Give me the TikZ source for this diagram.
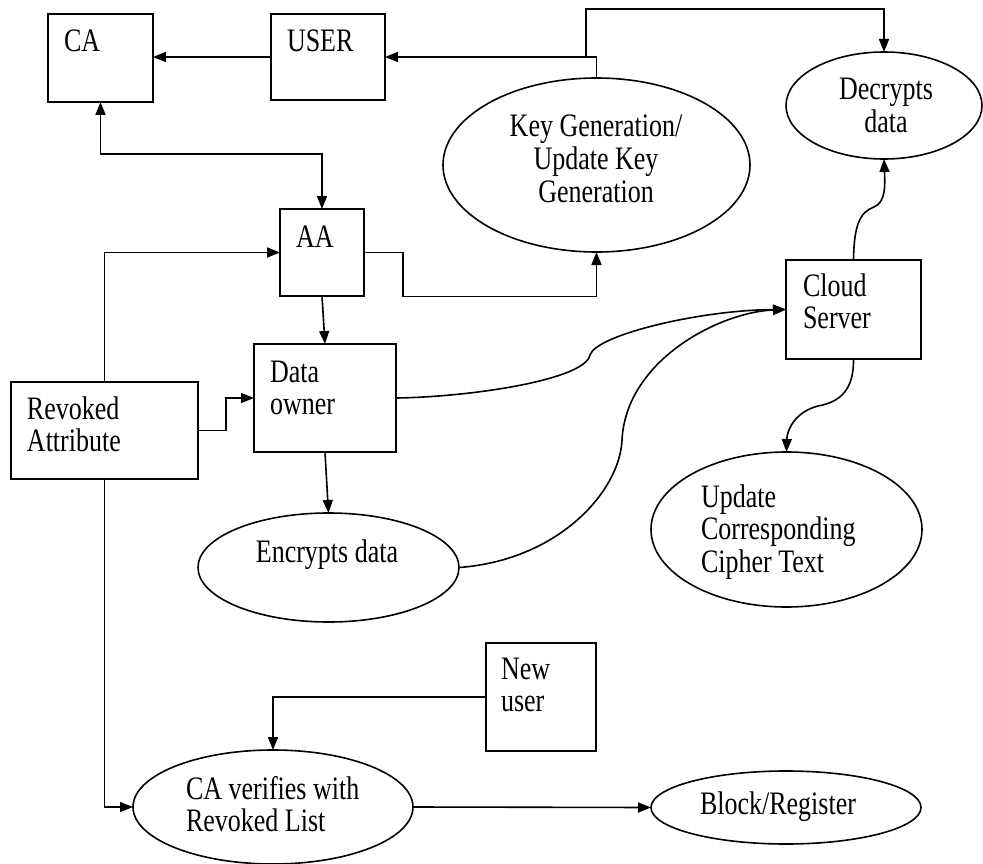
\documentclass[tikz,border=0pt]{standalone}
\usepackage{fontspec}
\setmainfont{Liberation Serif}
\usetikzlibrary{arrows.meta,shapes.geometric,calc}
\newcommand{\tx}[2][l]{\scalebox{1}[1.26]{\begin{tabular}[t]{@{}#1@{}}#2\end{tabular}}}
\begin{document}
\begin{tikzpicture}[x=1pt,y=-1pt,
  line width=1.6pt,
  box/.style={draw,rectangle,inner sep=0,outer sep=0},
  ell/.style={draw,ellipse,inner sep=0,outer sep=0},
  lab/.style={inner sep=0,outer sep=0,font=\fontsize{26}{26}\selectfont},
  arr/.style={-{Triangle[length=13pt,width=10pt]}},
  arrb/.style={{Triangle[length=13pt,width=10pt]}-{Triangle[length=13pt,width=10pt]}}]
\useasboundingbox (0,0) rectangle (983,864);

% boxes
\node[box,minimum width=105,minimum height=88] (ca) at (100.5,58) {};
\node[box,minimum width=114,minimum height=86] (user) at (328,57) {};
\node[box,minimum width=84,minimum height=87] (aa) at (322,252.5) {};
\node[box,minimum width=142,minimum height=108] (do) at (325,398) {};
\node[box,minimum width=187,minimum height=97] (rev) at (104.5,430.5) {};
\node[box,minimum width=135,minimum height=99] (cloud) at (853.5,309.5) {};
\node[box,minimum width=110,minimum height=108] (nu) at (541,697) {};

% ellipses
\node[ell,minimum width=307,minimum height=174] (kg) at (596.5,165) {};
\node[ell,minimum width=196,minimum height=107] (dec) at (884,105.5) {};
\node[ell,minimum width=261,minimum height=109] (enc) at (328.5,567.5) {};
\node[ell,minimum width=271,minimum height=155] (upd) at (786.5,529.5) {};
\node[ell,minimum width=280,minimum height=114] (cav) at (273,807) {};
\node[ell,minimum width=270,minimum height=73] (blk) at (786,807.5) {};

% texts
\node[lab,anchor=base west] (ca-t) at (64,52) {\tx{CA}};
\node[lab,anchor=base west] (user-t) at (287,52) {\tx{USER}};
\node[lab,anchor=base west] (aa-t) at (296,247) {\tx{AA}};
\node[lab,anchor=base west] (do-t) at (270,382) {\tx{Data\\owner}};
\node[lab,anchor=base west] (rev-t) at (27,419) {\tx{Revoked\\Attribute}};
\node[lab,anchor=base west] (cloud-t) at (803,296) {\tx{Cloud\\Server}};
\node[lab,anchor=base west] (nu-t) at (501,679) {\tx{New\\user}};
\node[lab,anchor=base] (kg-t) at (596,137) {\tx[c]{Key Generation/\\Update Key\\Generation}};
\node[lab,anchor=base] (dec-t) at (886,100) {\tx[c]{Decrypts\\data}};
\node[lab,anchor=base] (enc-t) at (327,562) {\tx[c]{Encrypts data}};
\node[lab,anchor=base west] (upd-t) at (701,507) {\tx{Update\\Corresponding\\Cipher Text}};
\node[lab,anchor=base west] (cav-t) at (186,799) {\tx{CA verifies with\\Revoked List}};
\node[lab,anchor=base] (blk-t) at (778,814) {\tx[c]{Block/Register}};

% connectors
\draw[arr] (user.west) -- (user.west -| ca.east);
\draw[arr] (kg.north) |- (user.east);
\coordinate (br) at (586,57);
\draw[arr] (br) -- ++(0,-48) -| (dec.north);
\draw[arrb] (ca.south) -- ++(0,52) -| (aa.north);
\draw[arr] (rev.north) |- (aa.west);
\draw[arr] (aa.east) -- ++(39,0) -- ++(0,44) -| (kg.south);
\draw[arr] (aa.south) -- (do.north);
\draw[arr] (rev.east) -- ++(28,0) |- (do.west);
\draw[arr] (do.south) -- (enc.north);
\draw[arr] (rev.south) |- (cav.west);
\draw[arr] (nu.west) -| (cav.north);
\draw[arr] (cav.east) -- (blk.west);
\draw[arr] (cloud.north) .. controls (854,225) and (860,212) .. (874,207)
  .. controls (886,202) and (885,185) .. (dec.south);
\draw[arr] (cloud.south) .. controls (854,390) and (840,402) .. (818,406)
  .. controls (795,412) and (787,430) .. (upd.north);
\draw[arr] (do.east) .. controls (470,397) and (585,380) .. (590,355)
  .. controls (596,335) and (700,310) .. (cloud.west);
\draw[arr] (enc.east) .. controls (560,560) and (620,490) .. (622,440)
  .. controls (626,360) and (720,312) .. (cloud.west);
\end{tikzpicture}
\end{document}
